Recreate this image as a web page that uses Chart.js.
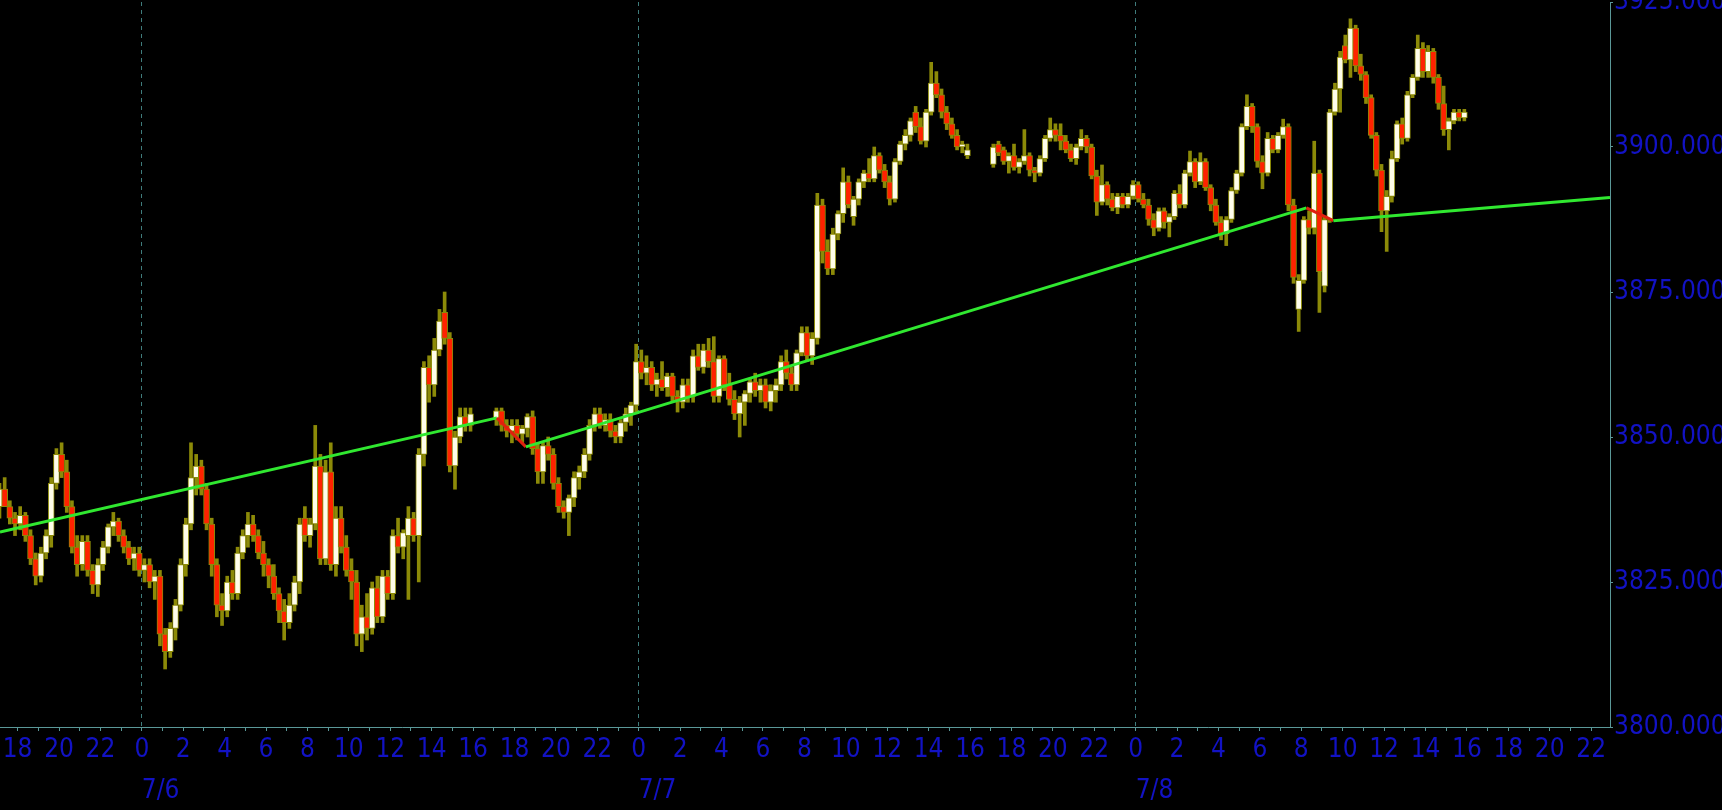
<!DOCTYPE html>
<html>
<head>
<meta charset="utf-8">
<script src="https://cdn.jsdelivr.net/npm/chart.js@4.4.1/dist/chart.umd.min.js"></script>
<style>
  html, body { margin: 0; padding: 0; background: #000; }
  #wrap { width: 1722px; height: 810px; }
</style>
</head>
<body>
<div id="wrap"><canvas id="priceChart" width="1722" height="810"></canvas></div>
<script>
// hours are counted from 7/6 00:00, one candle every 15 minutes
const sessionStarts = [-7, 17, 41];
const dayLabels = ["7/6", "7/7", "7/8"];

// session 7/5 17:00 - 7/6 16:00
const open1 = [3838,3841,3838,3836,3835,3836.5,3833,3829,3826,3830,3833,3842,3847,3844,3838,3831,3828,3832,3827,3824.5,3828,3831,3834.5,3835.5,3833,3831,3829,3830,3827,3828,3825,3826,3816,3813,3817,3821,3828,3835,3843,3845,3841,3835,3828,3821,3820,3825,3823,3830,3833,3835,3833,3830,3828,3826,3823,3820,3818,3821,3825,3836,3833,3835,3845,3829,3844,3828,3836,3831,3827,3825,3816,3819,3817,3824,3819,3826,3823,3833,3831,3833,3836,3833,3847,3862,3859,3865,3871.5,3867,3845,3850,3853.5,3852];
const high1 = [3842,3843,3839,3837,3838,3837,3834,3830,3831,3834,3843,3848,3849,3846,3839,3833,3833,3833,3828,3829,3832,3835,3837,3836,3834,3832,3831,3831,3829,3829,3827,3827,3817,3818,3822,3829,3836,3849,3847,3846,3842,3836,3829,3823,3826,3827,3831,3834,3837,3836.5,3834,3832,3829,3828,3824,3822,3823,3826,3836,3838,3836,3852,3847,3846,3849,3838,3838,3833,3829,3827,3821,3823,3825,3826,3827,3827,3834,3836,3834,3838,3837,3848,3863,3864,3867,3872,3875,3868,3851,3855,3855,3855];
const low1 = [3836,3838,3835,3833,3834,3832,3828,3824.5,3825,3829,3831,3841,3843,3837,3830,3826,3827,3826,3823,3822.5,3827,3830,3833,3832,3830,3828,3827,3826,3825,3824,3822,3814,3810,3812,3815,3820,3826,3834,3840,3840,3834,3826,3819,3817.5,3819,3822,3822,3829,3831,3832,3829,3826,3824,3822,3818,3815,3817,3820,3823,3832,3831,3834,3828,3828,3827,3826,3830,3826,3822,3814,3813,3815,3816,3818,3818,3822,3822,3830,3829,3822,3832,3825,3845,3856,3857,3864,3866,3844,3841,3849,3851,3851];
const close1 = [3841,3838,3836,3835,3836.5,3833,3829,3826,3830,3833,3842,3847,3844,3838,3831,3828,3832,3827,3824.5,3828,3831,3834.5,3835.5,3833,3831,3829,3830,3827,3828,3825,3826,3816,3813,3817,3821,3828,3835,3843,3845,3841,3835,3828,3821,3820,3825,3823,3830,3833,3835,3833,3830,3828,3826,3823,3820,3818,3821,3825,3835,3833,3835,3845,3829,3844,3828,3836,3831,3827,3825,3816,3819,3817,3824,3819,3826,3823,3833,3831,3833.5,3836,3833,3847,3862,3859,3865,3870,3867,3845,3850,3853.5,3852,3854];

// session 7/6 17:00 - 7/7 16:00
const open2 = [3853,3854.5,3852,3851,3852,3850.5,3851.5,3853.5,3848,3844,3848.5,3847,3842,3838,3837,3839.5,3843,3844,3847,3852,3854,3852,3853,3851,3850,3852.5,3854,3855.5,3863,3861,3862,3859,3860,3858.5,3860.5,3857,3856,3859,3857,3864,3862,3865,3863,3857,3863.5,3859,3856.5,3854,3856,3857.5,3859.5,3858,3859,3856,3858,3859,3863,3861,3859,3864.5,3868,3864,3867,3890,3882,3879,3885,3888.5,3894,3888,3891,3894,3895.5,3894.5,3898.5,3896,3894,3891,3897.5,3900.5,3902,3906,3903.5,3901,3906,3911,3909,3906,3904,3902,3900,3898.5];
const high2 = [3855,3855,3853,3853,3853,3852,3854,3854.5,3849,3849,3850,3848,3843,3839,3840,3844,3845,3848,3853,3855,3855,3854,3854,3852,3853,3855,3856,3866,3865,3864,3863,3861,3863,3861,3861,3858,3860,3860,3865,3866,3866,3867,3867.3,3864,3864,3861,3858,3857,3858,3860,3861,3860,3860,3859,3860,3864,3865,3862,3865,3869,3869,3868,3892,3891,3884,3886,3889,3896.4,3895,3891.5,3894.5,3896,3898,3900,3899,3897,3895,3898,3901,3903,3905,3907,3905,3906.5,3914.6,3913,3910,3907,3905,3903,3901,3900.5];
const low2 = [3852,3851,3850,3849,3849.5,3849,3850,3847,3842,3842,3846,3841,3837,3836,3833,3838,3841,3843,3846,3851,3851.5,3851,3850,3849,3849,3851,3852,3854,3860,3859,3858,3857,3858,3857,3856,3854.3,3855,3856,3856,3861.5,3861,3862,3856,3856,3858,3855.5,3853,3850,3852,3856,3857,3856,3855,3854.5,3856,3858,3860,3858,3858,3864,3863,3862.5,3866,3880,3878,3878,3884,3887,3889.5,3886.5,3890,3893,3894,3894,3895.5,3893,3890,3890.5,3897,3899.5,3901,3902.5,3900.5,3900,3905.5,3908.5,3905,3903,3901.5,3899.5,3899,3898];
const close2 = [3854.5,3852,3851,3852,3850.5,3851.5,3853.5,3848,3844,3848.5,3847,3842,3838,3837,3839.5,3843,3844,3847,3852,3854,3852,3853,3851,3850,3852.5,3854,3855.5,3863,3861,3862,3859,3860,3858.5,3860.5,3857,3856,3859,3857,3864,3862,3865,3863,3857,3863.5,3859,3856.5,3854,3856,3857.5,3859.5,3858,3859,3856,3858,3859,3863,3861,3859,3864.5,3868,3864,3867,3890,3882,3879,3885,3888.5,3894,3890,3891,3894,3895.5,3894.5,3898.5,3896,3894,3891,3897.5,3900.5,3902,3904.5,3903.5,3901,3906,3911,3909,3906,3904,3902,3900,3900.5,3899.5];

// session 7/7 17:00 - 7/8 16:00
const open3 = [3897,3900.5,3899.5,3897.5,3898.5,3896.5,3897.5,3898.5,3896,3895.5,3898,3901.5,3903,3902,3901,3899.5,3898,3900,3901.5,3900,3895,3890.5,3893.5,3891,3889.5,3891.5,3890,3891.5,3893.5,3891,3890,3887.5,3886,3889,3887,3888,3892,3890,3895.5,3897.5,3894,3897.5,3893,3890,3887,3885,3887.5,3892.5,3895.5,3903.5,3907,3903.5,3897.5,3895.5,3901.5,3899.5,3902,3903.5,3890,3872,3877,3887.5,3886,3895.5,3876,3887.5,3906,3910,3917.5,3915,3920.5,3914,3912.5,3908.5,3902,3896,3889,3891.5,3898,3904,3901.5,3909,3912,3917,3913,3916.5,3912,3907.5,3903,3904.5,3906,3905];
const high3 = [3900.5,3901,3900,3899,3900.5,3898,3903,3899,3896.5,3898.5,3902,3905,3904,3904,3902,3900.5,3900.5,3903,3902,3900.5,3896,3896.9,3894,3892,3892,3892,3892,3894.2,3894,3892,3891,3888.5,3889.5,3889.5,3888.5,3892.5,3893.5,3896,3899.3,3898,3899,3898,3893.5,3891,3888,3888,3893,3896,3904,3909,3907.5,3904,3898.5,3902.5,3902,3902.5,3904.8,3904,3891,3878,3888,3889,3901,3896,3888,3906.5,3911,3916.5,3919.3,3922.1,3921,3916,3913,3909,3902.5,3897,3892.5,3899.3,3904.5,3905,3909.6,3912.5,3919.3,3918,3917.5,3917,3912.5,3910.5,3905,3906.5,3906.5,3906.5];
const low3 = [3896.5,3898.5,3897,3895.5,3896,3895.5,3897,3895,3894,3895,3897.5,3901,3901,3899.5,3899,3897.5,3897,3899.5,3899,3894.5,3888.2,3890,3890,3889,3888.5,3889.5,3889.5,3891,3890.5,3889.5,3886.5,3884.7,3885.5,3886,3884.5,3887.5,3889.5,3889.5,3895,3893,3893.5,3892.5,3889,3886.5,3884,3883,3887,3892,3895,3903,3902.5,3896.5,3892.8,3895,3899,3899,3901.5,3889,3876.5,3868.2,3876.5,3885,3885,3871.5,3875,3887,3905.5,3906,3914.5,3912,3913,3911.5,3907.5,3901.5,3895,3885.4,3882,3890.5,3897.5,3900.5,3901,3908.5,3911.5,3912,3912,3911,3906.5,3902,3899.5,3904,3904.5,3904.5];
const close3 = [3900,3899,3897.5,3898.5,3896.5,3897.5,3898.5,3896,3895.5,3898,3901.5,3903,3902,3901,3899.5,3898,3900,3901.5,3900,3895,3890.5,3893.5,3891,3889.5,3891.5,3890,3891.5,3893.5,3891,3890,3887.5,3886,3889,3887,3888,3892,3890,3895.5,3897.5,3894,3897.5,3893,3890,3887,3885,3887.5,3892.5,3895.5,3903.5,3907,3903.5,3897.5,3895.5,3901.5,3899.5,3902,3903.5,3890,3877.5,3877,3887.5,3886,3895.5,3878.5,3887.5,3906,3910,3915.5,3915,3920.5,3914,3912.5,3908.5,3902,3896,3889,3891.5,3898,3904,3901.5,3909,3912,3917,3913,3916.5,3912,3907.5,3903,3904.5,3906,3905,3906];

// trend line corners (hour, price)
const trendHours = [-6.85, 17.15, 18.55, 56.25, 57.55, 70.91];
const trendPrices = [3833.6, 3853.3, 3848.3, 3889.5, 3887.3, 3891.3];

const BLUE = "#1212c4";
const OLIVE = "#8c8a08";
const UP = "#fffdea";
const DOWN = "#ff2200";
const AXIS = "#5a9898";
const FONT = { family: "'DejaVu Sans Condensed', 'DejaVu Sans', sans-serif", size: 26 };

const sessions = [
  { o: open1, h: high1, l: low1, c: close1 },
  { o: open2, h: high2, l: low2, c: close2 },
  { o: open3, h: high3, l: low3, c: close3 },
];

const wickData = [];
const bodyData = [];
const bodyColors = [];
sessions.forEach(function (s, k) {
  s.c.forEach(function (close, i) {
    const x = sessionStarts[k] + i * 0.25 + 0.125;
    const open = s.o[i];
    wickData.push({ x: x, y: [s.l[i], s.h[i]] });
    bodyData.push({ x: x, y: [Math.min(open, close), Math.max(open, close)] });
    bodyColors.push(close >= open ? UP : DOWN);
  });
});

const trendData = trendHours.map((h, i) => ({ x: h, y: trendPrices[i] }));

const dayLabelPlugin = {
  id: "dayLabels",
  afterDraw(chart) {
    const xs = chart.scales.x;
    const ctx = chart.ctx;
    ctx.save();
    ctx.fillStyle = BLUE;
    ctx.font = FONT.size + "px " + FONT.family;
    ctx.textAlign = "left";
    ctx.textBaseline = "middle";
    dayLabels.forEach(function (t, i) {
      ctx.fillText(t, xs.getPixelForValue(24 * i), xs.top + 64);
    });
    ctx.restore();
  },
};

const ctx = document.getElementById("priceChart").getContext("2d");
new Chart(ctx, {
  type: "bar",
  data: {
    datasets: [
      {
        type: "line",
        data: trendData,
        borderWidth: 3,
        borderColor: "#30e830",
        pointRadius: 0,
        tension: 0,
        order: 0,
        segment: {
          borderColor: (c) => (c.p1.parsed.y < c.p0.parsed.y ? "#e0200e" : "#30e830"),
        },
      },
      {
        data: bodyData,
        backgroundColor: bodyColors,
        borderColor: OLIVE,
        borderWidth: 1,
        borderSkipped: false,
        barThickness: 6,
        minBarLength: 1,
        grouped: false,
        order: 1,
      },
      {
        data: wickData,
        backgroundColor: OLIVE,
        borderWidth: 0,
        barThickness: 3,
        grouped: false,
        order: 2,
      },
    ],
  },
  options: {
    responsive: false,
    animation: false,
    layout: { padding: { top: 2, left: 0, right: 0, bottom: 0 } },
    plugins: { legend: { display: false }, tooltip: { enabled: false } },
    scales: {
      x: {
        type: "linear",
        min: -6.85,
        max: 70.91,
        offset: false,
        grid: {
          offset: false,
          color: (c) => (c.tick && c.tick.value % 24 === 0 ? "#3f7c7c" : "rgba(0,0,0,0)"),
          tickColor: AXIS,
          tickLength: 4,
        },
        border: { color: AXIS, dash: [4, 4] },
        ticks: {
          stepSize: 1,
          includeBounds: false,
          autoSkip: false,
          maxRotation: 0,
          color: BLUE,
          font: FONT,
          padding: 4,
          callback: function (v) {
            if (!Number.isInteger(v)) return null;
            if (Math.abs(v) % 2 === 1) return "";
            return String(((v % 24) + 24) % 24);
          },
        },
        afterFit: function (s) {
          s.height = 83;
          s.paddingLeft = 0;
          s.paddingRight = 0;
        },
      },
      y: {
        position: "right",
        min: 3800,
        max: 3925,
        grid: { drawOnChartArea: false, tickColor: AXIS, tickLength: 3 },
        border: { color: AXIS },
        ticks: {
          stepSize: 25,
          color: BLUE,
          font: FONT,
          padding: 1,
          callback: (v) => v.toFixed(3),
        },
        afterFit: function (s) {
          s.width = 112;
          s.paddingTop = 0;
          s.paddingBottom = 0;
        },
      },
    },
  },
  plugins: [dayLabelPlugin],
});
</script>
</body>
</html>
